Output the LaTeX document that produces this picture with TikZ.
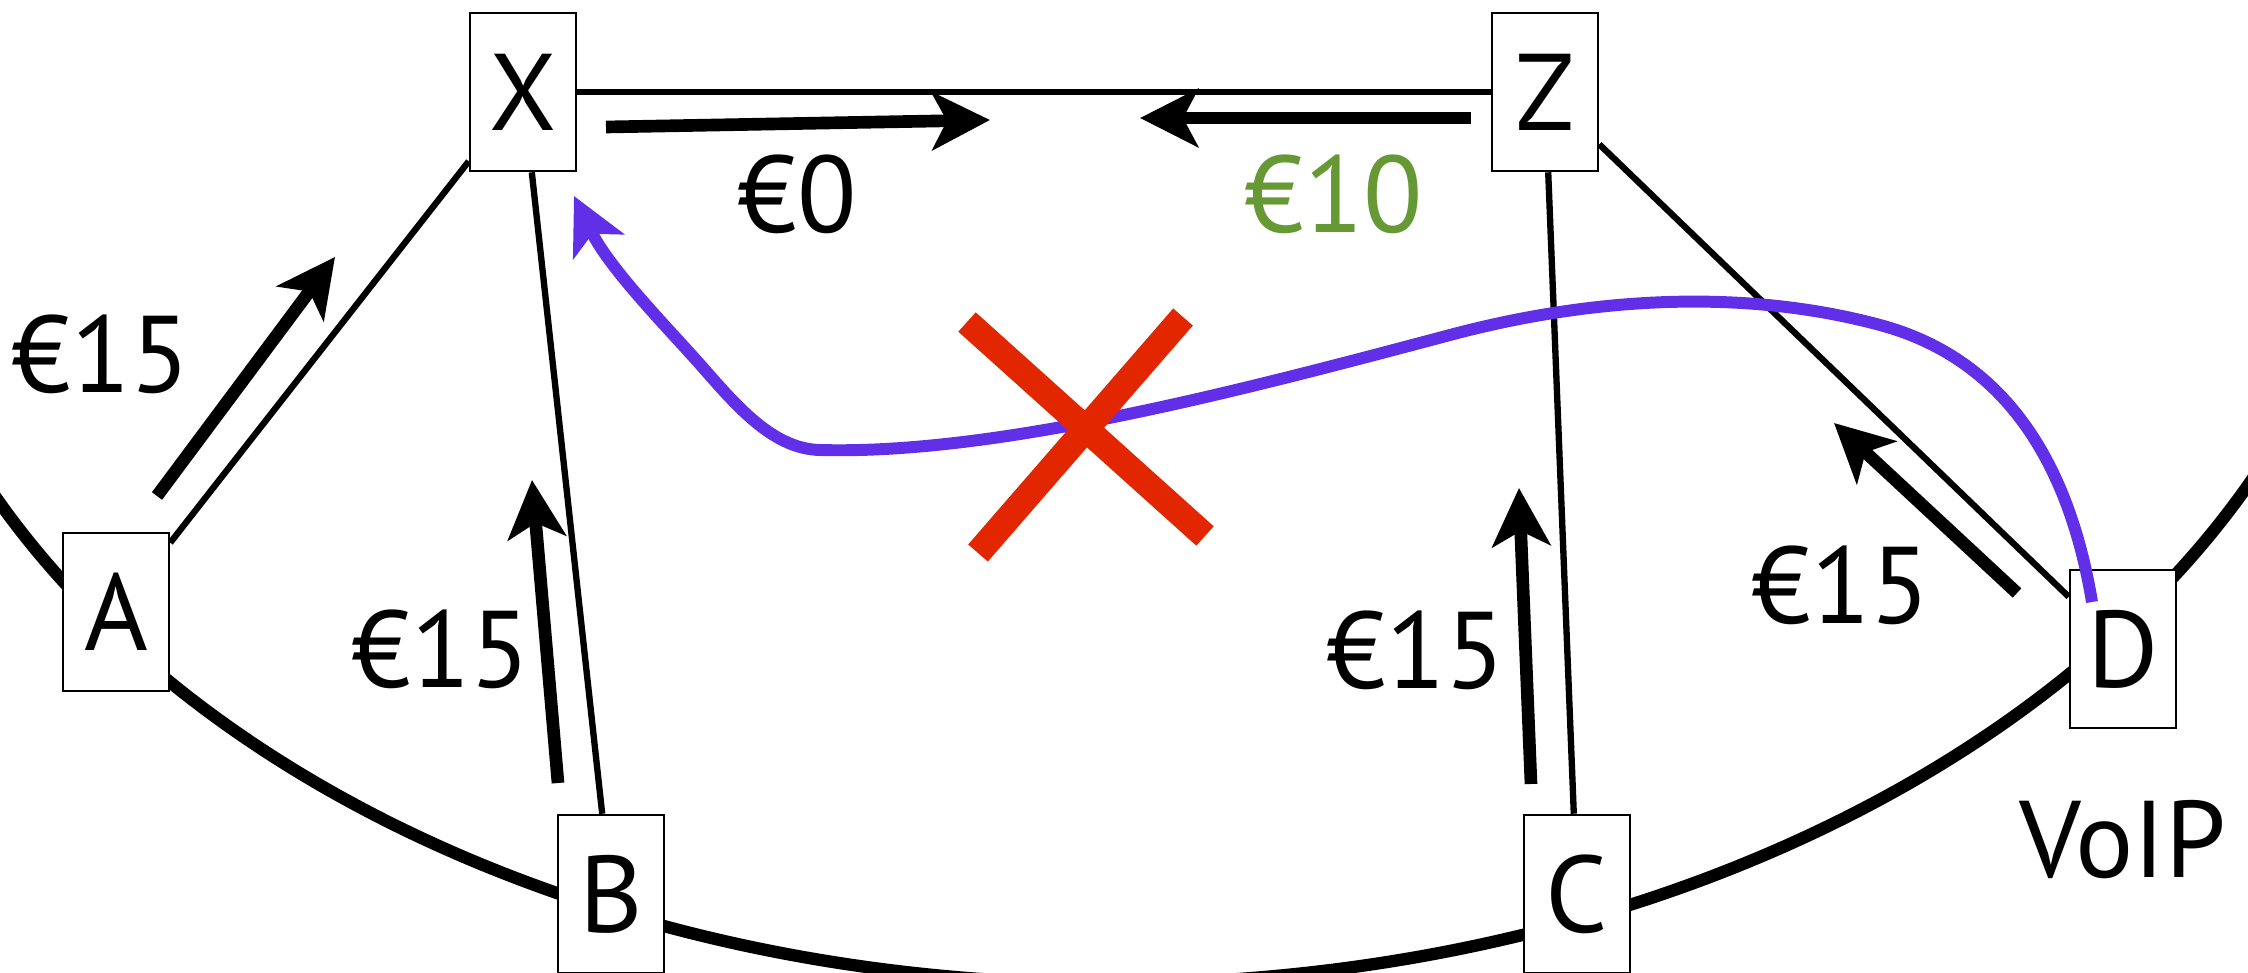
\documentclass[tikz,border=0pt]{standalone}
\usepackage{fontspec}
\setmainfont{PT Sans}
\usetikzlibrary{arrows.meta,positioning,backgrounds}
\definecolor{callviolet}{RGB}{97,47,232}
\definecolor{cutred}{RGB}{226,38,0}
\definecolor{paygreen}{RGB}{102,153,51}
\tikzset{
  router/.style={draw, line width=0.7pt, fill=white, minimum width=1.06cm,
    minimum height=1.58cm, inner sep=0pt, font=\fontsize{31}{36}\selectfont},
  price/.style={inner sep=0pt, font=\fontsize{31}{36}\selectfont},
  link/.style={line width=1.8pt},
  ring/.style={line width=3.5pt},
  pay/.style={line width=3.6pt, -{Stealth[length=0.58cm, width=0.58cm, inset=0.15cm]}},
  call/.style={callviolet, line width=3.4pt, -{Stealth[length=0.56cm, width=0.56cm, inset=0.14cm]}},
  cut/.style={cutred, line width=7.4pt}
}

\begin{document}
\begin{tikzpicture}[x=0.01cm, y=-0.01cm]
\useasboundingbox (0,0) rectangle (2248,973);

\node[router] (X) at (523,92) {X};
\node[router] (Z) at (1545,92) {Z};
\node[router] (A) at (116,612) {A};
\node[router] (B) at (611,894) {B};
\node[router] (C) at (1577,894) {C};
\node[router] (D) at (2123,649) {D};
\node[price, below=0.7cm of D] (voip) {VoIP};

\node[price] (pXZ) at (797,194) {€0};
\node[price, paygreen] (pZX) at (1334,194) {€10};
\node[price] (pA) at (101,354) {€15};
\node[price] (pB) at (441,649) {€15};
\node[price] (pC) at (1416,650) {€15};
\node[price] (pD) at (1841,585) {€15};

\coordinate (ringc) at (1124,100);
\begin{scope}[on background layer]
  \draw[ring, rotate around={0.9:(ringc)}] (ringc) ellipse [x radius=12.55cm, y radius=8.83cm];
  \draw[link] (X) -- (Z);
  \draw[link] (X) -- (A);
  \draw[link] (X) -- (B);
  \draw[link] (Z) -- (C);
  \draw[link] (Z) -- (D);
\end{scope}

\coordinate (xzs) at (606,127);
\coordinate (xze) at (990,120);
\coordinate (zxs) at (1471,118);
\coordinate (zxe) at (1140,118);
\coordinate (axs) at (157,496);
\coordinate (axe) at (335,257);
\coordinate (bxs) at (558,783);
\coordinate (bxe) at (532,480);
\coordinate (czs) at (1531,784);
\coordinate (cze) at (1519,488);
\coordinate (dzs) at (2017,593);
\coordinate (dze) at (1834,423);
\draw[pay] (xzs) -- (xze);
\draw[pay] (zxs) -- (zxe);
\draw[pay] (axs) -- (axe);
\draw[pay] (bxs) -- (bxe);
\draw[pay] (czs) -- (cze);
\draw[pay] (dzs) -- (dze);

\coordinate (cstart) at (2092,602);
\coordinate (cend) at (574,196);
\draw[call] (cstart) .. controls (2070,470) and (2010,360) .. (1880,325)
  .. controls (1750,290) and (1600,295) .. (1450,335)
  .. controls (1250,388) and (1000,455) .. (820,450)
  .. controls (775,449) and (740,410) .. (705,370)
  .. controls (670,330) and (610,270) .. (cend);

\draw[cut] (967,322) -- (1205,536) (1183,317) -- (978,553);
\end{tikzpicture}
\end{document}
